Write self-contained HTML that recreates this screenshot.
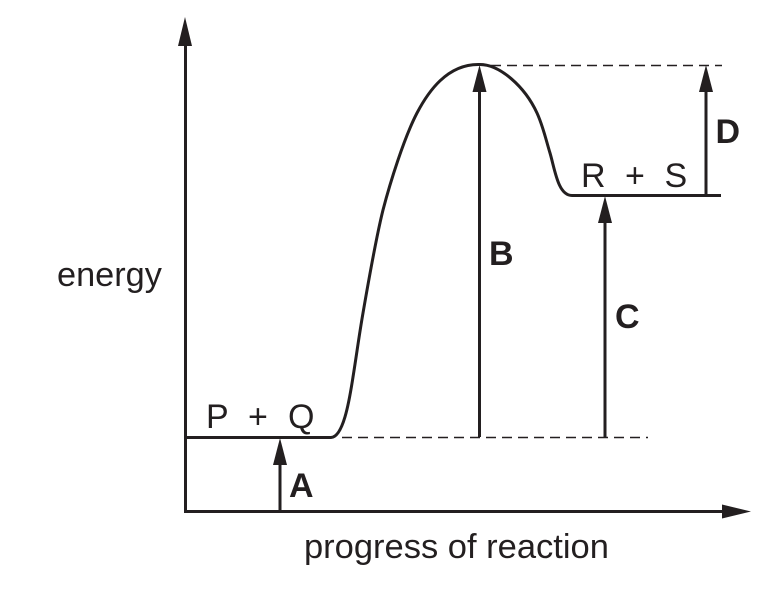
<!DOCTYPE html>
<html>
<head>
<meta charset="utf-8">
<style>
html,body{margin:0;padding:0;background:#fff;width:784px;height:589px;overflow:hidden}
svg{display:block}
text{font-family:"Liberation Sans",Arial,sans-serif;fill:#231f20}
</style>
</head>
<body>
<svg width="784" height="589" viewBox="0 0 784 589" xmlns="http://www.w3.org/2000/svg">
<g fill="none" stroke="#231f20" stroke-width="3">
<path d="M185.500 40V511.500H725"/>
<path d="M185 437.500H331C343 437 349 403 353 377C357 352 359 336 363 313C368 284 377 234 383 210C390 183 404 138 417 113C428 92 447 64 479 64.500C500 64 525 87 537 113C543 126 546 140 550 153C555 170 558 195.500 572 195.500H721"/>
<path d="M280 462V511"/>
<path d="M479.500 88V437"/>
<path d="M605 220V437"/>
<path d="M706 88V195"/>
</g>
<g fill="none" stroke="#231f20" stroke-width="1.500" stroke-dasharray="10 6">
<path d="M342 437.500H648"/>
<path d="M491 65.500H722"/>
</g>
<g fill="#231f20">
<polygon points="185,17 178,46 192,46"/>
<polygon points="751,511.500 722,504.500 722,518.500"/>
<polygon points="280,438 273,465 287,465"/>
<polygon points="479.500,65 472.500,92 486.500,92"/>
<polygon points="605,196 598,223 612,223"/>
<polygon points="706,65 699,92 713,92"/>
</g>
<text x="57" y="286" font-size="34.300">energy</text>
<text x="304" y="558" font-size="34.500">progress of reaction</text>
<text x="206" y="428" font-size="34">P</text>
<text x="248" y="428" font-size="34">+</text>
<text x="288" y="428" font-size="34">Q</text>
<text x="581" y="187" font-size="34">R</text>
<text x="625" y="187" font-size="34">+</text>
<text x="664.500" y="187" font-size="34">S</text>
<text x="289" y="497" font-size="34" font-weight="bold">A</text>
<text x="489" y="265" font-size="34" font-weight="bold">B</text>
<text x="615" y="328" font-size="34" font-weight="bold">C</text>
<text x="715.500" y="143" font-size="34" font-weight="bold">D</text>
</svg>
</body>
</html>
